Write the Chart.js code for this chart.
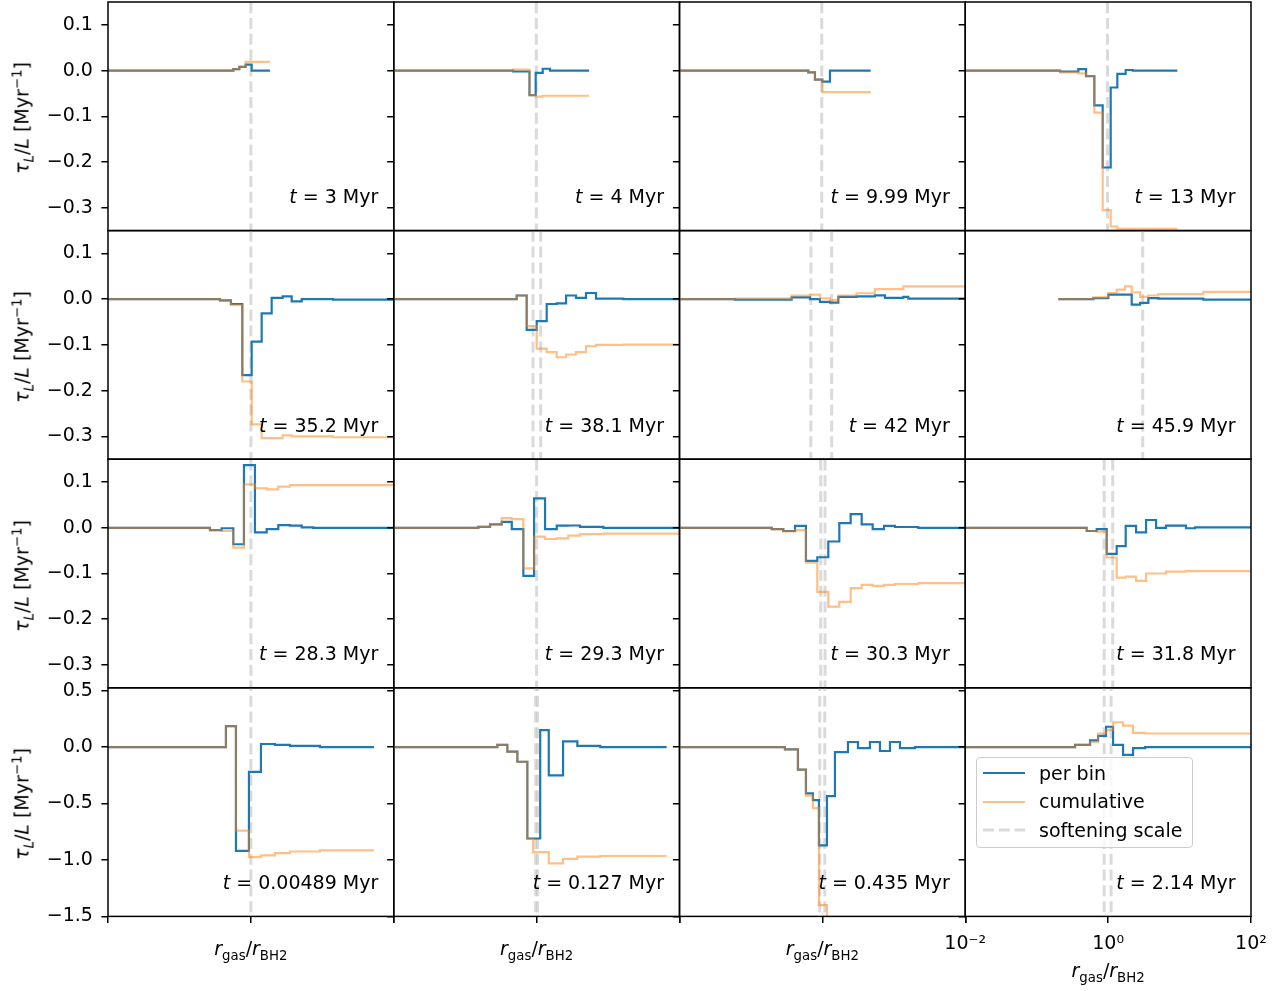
<!DOCTYPE html>
<html><head><meta charset="utf-8">
<script src="https://cdn.jsdelivr.net/npm/chart.js"></script>
<style>
body{margin:0;background:#fff;}
#wrap{position:relative;width:1284px;height:991px;overflow:hidden;font-family:'DejaVu Sans';color:#000;background:#fff;}
canvas{position:absolute;}
.txt{position:absolute;font-size:19px;line-height:19px;white-space:nowrap;font-family:'DejaVu Sans';}
sub,sup{font-size:0.7em;line-height:0;}
</style></head>
<body><div id="wrap"></div>
<script>
// ---------------- DATA ----------------
const times = ['3','4','9.99','13','35.2','38.1','42','45.9','28.3','29.3','30.3','31.8','0.00489','0.127','0.435','2.14'];
// bin edges in log10(r_gas/r_BH2); per-bin and cumulative tau_L/L per bin
const p0_edges = [-2, -0.246, -0.162, -0.073, 0.011, 0.267];
const p0_bin   = [0, 0.003, 0.008, 0.013, 0];
const p0_cum   = [0, 0.003, 0.008, 0.019, 0.019];
const p0_soft  = [1.0];

const p1_edges = [-2, -0.33, -0.10, -0.013, 0.085, 0.187, 0.734];
const p1_bin   = [0, -0.002, -0.054, -0.005, 0.004, 0.0];
const p1_cum   = [0, 0.002, -0.054, -0.057, -0.055, -0.055];
const p1_soft  = [0.99];

const p2_edges = [-2, -0.197, -0.104, -0.001, 0.106, 0.676];
const p2_bin   = [0, -0.004, -0.02, -0.024, 0.0];
const p2_cum   = [0, -0.004, -0.02, -0.047, -0.047];
const p2_soft  = [0.98];

const p3_edges = [-2, -0.673, -0.417, -0.309, -0.193, -0.076, 0.036, 0.129, 0.246, 0.344, 0.969];
const p3_bin   = [0, -0.002, 0.003, -0.012, -0.076, -0.212, -0.037, -0.0074, 0.0013, 0.0];
const p3_cum   = [0, -0.004, -0.006, -0.012, -0.092, -0.305, -0.341, -0.346, -0.346, -0.346];
const p3_soft  = [0.98];

const p4_edges = [-2, -0.433, -0.279, -0.120, 0.011, 0.151, 0.291, 0.445, 0.571, 0.711, 1.149, 2];
const p4_bin   = [0, -0.0025, -0.0105, -0.166, -0.093, -0.031, 0.003, 0.006, -0.005, 0.0, -0.001];
const p4_cum   = [0, -0.003, -0.013, -0.18, -0.274, -0.304, -0.304, -0.298, -0.300, -0.300, -0.302];
const p4_soft  = [1.0];

const p5_edges = [-2, -0.279, -0.139, 0.001, 0.141, 0.281, 0.412, 0.551, 0.691, 0.831, 1.214, 2];
const p5_bin   = [0, 0.008, -0.067, -0.048, -0.0105, -0.009, 0.008, 0.003, 0.0135, 0.001, 0];
const p5_cum   = [0, 0.008, -0.059, -0.108, -0.116, -0.127, -0.121, -0.116, -0.103, -0.100, -0.0995];
const p5_soft  = [0.89, 1.14];

const p6_edges = [-2, -1.225, -0.43, -0.174, -0.034, 0.106, 0.223, 0.480, 0.736, 0.876, 1.133, 1.203, 2];
const p6_bin   = [0, -0.001, 0.004, 0, -0.006, -0.0075, 0.005, 0.006, 0.0085, 0.003, 0.005, 0.001];
const p6_cum   = [0, 0.001, 0.008, 0.010, 0.002, -0.002, 0.008, 0.013, 0.022, 0.022, 0.028, 0.028];
const p6_soft  = [0.69, 1.35];

const p7_edges = [-0.697, -0.207, 0.003, 0.12, 0.237, 0.33, 0.447, 0.563, 0.703, 1.333, 2];
const p7_bin   = [0, 0.002, 0.01, 0.01, 0.01, -0.012, -0.008, 0.0025, 0.001, -0.001];
const p7_cum   = [0, 0.004, 0.0135, 0.021, 0.028, 0.015, 0.005, 0.008, 0.011, 0.016];
const p7_soft  = [3.05];

const p8_edges = [-2, -0.573, -0.409, -0.246, -0.097, 0.057, 0.221, 0.384, 0.547, 0.711, 0.873, 2];
const p8_bin   = [0, -0.005, -0.001, -0.036, 0.137, -0.010, -0.003, 0.006, 0.0045, 0.001, 0];
const p8_cum   = [0, -0.005, -0.007, -0.0435, 0.095, 0.0865, 0.084, 0.090, 0.0935, 0.0935, 0.0935];
const p8_soft  = [1.0];

const p9_edges = [-2, -0.816, -0.652, -0.488, -0.348, -0.186, -0.036, 0.118, 0.282, 0.444, 0.607, 0.934, 2];
const p9_bin   = [0, 0.002, 0.0075, 0.013, -0.003, -0.105, 0.0645, -0.003, 0.0045, 0.005, 0.002, 0];
const p9_cum   = [0, 0.002, 0.0075, 0.021, 0.019, -0.089, -0.0195, -0.0245, -0.023, -0.017, -0.014, -0.013];
const p9_soft  = [1.0];

const p10_edges = [-2, -0.709, -0.547, -0.383, -0.23, -0.071, 0.083, 0.237, 0.396, 0.55, 0.704, 0.862, 1.016, 1.342, 2];
const p10_bin   = [0, -0.003, -0.007, 0.004, -0.0725, -0.0645, -0.030, 0.010, 0.030, 0.0075, -0.003, 0.004, 0.0017, 0];
const p10_cum   = [0, -0.003, -0.008, -0.005, -0.076, -0.140, -0.1725, -0.162, -0.132, -0.125, -0.127, -0.125, -0.123, -0.121];
const p10_soft  = [0.95, 1.09];

const p11_edges = [-2, -0.3, -0.16, -0.02, 0.12, 0.246, 0.391, 0.531, 0.671, 0.81, 1.09, 1.216, 2];
const p11_bin   = [0, -0.007, -0.003, -0.057, -0.040, 0.004, -0.010, 0.017, 0, 0.0045, -0.001, 0.001];
const p11_cum   = [0, -0.007, -0.0085, -0.065, -0.109, -0.107, -0.116, -0.100, -0.100, -0.096, -0.095, -0.095];
const p11_soft  = [0.88, 1.16];

const p12_edges = [-2, -0.349, -0.209, -0.027, 0.141, 0.337, 0.547, 0.967, 1.723];
const p12_bin   = [0, 0.186, -0.92, -0.22, 0.027, 0.02, 0.01, 0];
const p12_cum   = [0, 0.186, -0.74, -0.975, -0.96, -0.94, -0.925, -0.915];
const p12_soft  = [1.0];

const p13_edges = [-2, -0.55, -0.41, -0.27, -0.13, -0.05, 0.05, 0.17, 0.37, 0.57, 0.89, 1.82];
const p13_bin   = [0, 0.02, -0.04, -0.13, -0.81, -0.81, 0.15, -0.25, 0.05, 0.01, 0];
const p13_cum   = [0, 0.02, -0.04, -0.13, -0.81, -0.93, -0.93, -1.03, -0.99, -0.97, -0.965];
const p13_soft  = [0.97, 1.03];

const p14_edges = [-2, -0.524, -0.342, -0.23, -0.132, -0.048, 0.064, 0.176, 0.358, 0.498, 0.666, 0.806, 0.946, 1.086, 1.296, 2];
const p14_bin   = [0, -0.02, -0.2, -0.41, -0.47, -0.87, -0.435, -0.045, 0.045, -0.01, 0.045, -0.035, 0.045, -0.01, 0];
const p14_cum   = [0, -0.02, -0.2, -0.43, -0.54, -1.4, -1.75, -1.8, -1.78, -1.8, -1.76, -1.8, -1.76, -1.77, -1.77];
const p14_soft  = [0.92, 1.08];

const p15_edges = [-2, -0.463, -0.253, -0.141, -0.029, 0.069, 0.209, 0.349, 0.517, 2];
const p15_bin   = [0, 0.02, 0.06, 0.1, 0.18, 0.02, -0.07, -0.01, 0];
const p15_cum   = [0, 0.02, 0.045, 0.12, 0.15, 0.22, 0.19, 0.125, 0.12];
const p15_soft  = [0.88, 1.1];

const xRange = [0.01, 100];
const xTickValues = [0.01, 1, 100];
const xTickLabels = ['10\u207B\u00B2', '10\u2070', '10\u00B2'];
const yRangeTop = [-0.35, 0.15];
const yTicksTop = [-0.3, -0.2, -0.1, 0.0, 0.1];
const yLabelsTop = ['\u22120.3', '\u22120.2', '\u22120.1', '0.0', '0.1'];
const yRangeBottom = [-1.5, 0.525];
const yTicksBottom = [-1.5, -1.0, -0.5, 0.0, 0.5];
const yLabelsBottom = ['\u22121.5', '\u22121.0', '\u22120.5', '0.0', '0.5'];

const panels = [
  [p0_edges, p0_bin, p0_cum, p0_soft], [p1_edges, p1_bin, p1_cum, p1_soft],
  [p2_edges, p2_bin, p2_cum, p2_soft], [p3_edges, p3_bin, p3_cum, p3_soft],
  [p4_edges, p4_bin, p4_cum, p4_soft], [p5_edges, p5_bin, p5_cum, p5_soft],
  [p6_edges, p6_bin, p6_cum, p6_soft], [p7_edges, p7_bin, p7_cum, p7_soft],
  [p8_edges, p8_bin, p8_cum, p8_soft], [p9_edges, p9_bin, p9_cum, p9_soft],
  [p10_edges, p10_bin, p10_cum, p10_soft], [p11_edges, p11_bin, p11_cum, p11_soft],
  [p12_edges, p12_bin, p12_cum, p12_soft], [p13_edges, p13_bin, p13_cum, p13_soft],
  [p14_edges, p14_bin, p14_cum, p14_soft], [p15_edges, p15_bin, p15_cum, p15_soft]
];

// ---------------- LAYOUT ----------------
const L0 = 108, PW = 285.75, T0 = 2, PH = 228.6;
const wrap = document.getElementById('wrap');
Chart.defaults.font.family = "'DejaVu Sans'";
Chart.defaults.font.size = 19;
Chart.defaults.color = '#000';

const BLUE = '#1f77b4', ORANGE = 'rgba(255,127,14,0.5)', GREY = 'rgba(195,195,195,0.62)';

function stepPoints(edges, vals) {
  const pts = vals.map((v, i) => ({x: Math.pow(10, edges[i]), y: v}));
  pts.push({x: Math.pow(10, edges[edges.length - 1]), y: vals[vals.length - 1]});
  return pts;
}

const framePlugin = {
  id: 'frame',
  afterDatasetsDraw(chart) {
    const {ctx, chartArea: a} = chart;
    ctx.save();
    ctx.strokeStyle = '#000';
    ctx.lineWidth = 1.5;
    ctx.strokeRect(a.left, a.top, a.right - a.left, a.bottom - a.top);
    ctx.restore();
  }
};

let lastChart = null;
panels.forEach((p, idx) => {
  const [edges, bin, cum, soft] = p;
  const r = Math.floor(idx / 4), c = idx % 4;
  const px0 = L0 + c * PW, px1 = px0 + PW, py0 = T0 + r * PH, py1 = py0 + PH;
  const cx = Math.floor(px0) - 100, cy = Math.floor(py0) - 20;
  const cw = Math.ceil(px1) + 40 - cx, ch = Math.ceil(py1) + 75 - cy;
  const canvas = document.createElement('canvas');
  canvas.width = cw; canvas.height = ch;
  canvas.style.left = cx + 'px'; canvas.style.top = cy + 'px';
  canvas.style.width = cw + 'px'; canvas.style.height = ch + 'px';
  wrap.appendChild(canvas);

  const bottomRow = r === 3;
  const yT = bottomRow ? yTicksBottom : yTicksTop;
  const yL = bottomRow ? yLabelsBottom : yLabelsTop;
  const yR = bottomRow ? yRangeBottom : yRangeTop;

  const datasets = [
    {label: 'per bin', data: stepPoints(edges, bin), borderColor: BLUE, borderWidth: 2.2,
     stepped: true, pointRadius: 0, fill: false, order: 2, clip: 0},
    {label: 'cumulative', data: stepPoints(edges, cum), borderColor: ORANGE, borderWidth: 2.2,
     stepped: true, pointRadius: 0, fill: false, order: 1, clip: 0}
  ];
  soft.forEach(s => datasets.push({label: 'softening scale', data: [{x: s, y: -10}, {x: s, y: 10}],
    borderColor: GREY, borderWidth: 3, borderDash: [11, 4.8], pointRadius: 0, fill: false, order: 3, clip: 0}));

  lastChart = new Chart(canvas, {
    type: 'line',
    data: {datasets},
    options: {
      responsive: false, animation: false, devicePixelRatio: 1, events: [],
      layout: {padding: {left: 0, top: py0 - cy, right: cx + cw - px1, bottom: 0}, autoPadding: false},
      plugins: {legend: {display: false}, tooltip: {enabled: false}},
      scales: {
        x: {type: 'logarithmic', min: xRange[0], max: xRange[1],
            afterBuildTicks: s => { s.ticks = xTickValues.map(v => ({value: v})); },
            afterFit: s => { s.height = cy + ch - py1; },
            ticks: {display: bottomRow && c === 3, autoSkip: false, maxRotation: 0, minRotation: 0,
                    padding: 10, callback: (v, i) => xTickLabels[i]},
            grid: {display: bottomRow, drawOnChartArea: false, drawTicks: true, tickLength: 6.6,
                   tickColor: '#000', tickWidth: 1.5, color: '#000', lineWidth: 1.5},
            border: {display: false}},
        y: {type: 'linear', min: yR[0], max: yR[1],
            afterBuildTicks: s => { s.ticks = yT.map(v => ({value: v})); },
            afterFit: s => { s.width = px0 - cx; },
            ticks: {display: c === 0, padding: 8.5, callback: (v, i) => yL[i]},
            grid: {drawOnChartArea: false, drawTicks: true, tickLength: 6.6,
                   tickColor: '#000', tickWidth: 1.5, color: '#000', lineWidth: 1.5},
            border: {display: false}}
      }
    },
    plugins: [framePlugin]
  });

  // time annotation
  const ann = document.createElement('div');
  ann.className = 'txt';
  ann.innerHTML = '<i>t</i> = ' + times[idx] + ' Myr';
  ann.style.right = (1284 - (px1 - 15.5)) + 'px';
  ann.style.top = (py1 - 27.4 - 16.1) + 'px';
  wrap.appendChild(ann);

  if (r === 3) {
    const xl = document.createElement('div');
    xl.className = 'txt';
    xl.innerHTML = '<i>r</i><sub>gas</sub>/<i>r</i><sub>BH2</sub>';
    const base = c === 3 ? 977 : 955;
    xl.style.left = ((px0 + px1) / 2) + 'px';
    xl.style.top = (base - 16.1) + 'px';
    xl.style.transform = 'translateX(-50%)';
    wrap.appendChild(xl);
  }
  if (c === 0) {
    const yl = document.createElement('div');
    yl.className = 'txt';
    yl.innerHTML = '<i>\u03C4</i><sub><i>L</i></sub>/<i>L</i> [Myr<sup>\u22121</sup>]';
    yl.style.left = '22px';
    yl.style.top = ((py0 + py1) / 2 + 2) + 'px';
    yl.style.transform = 'translate(-50%,-50%) rotate(-90deg)';
    wrap.appendChild(yl);
  }
});

// ---------------- LEGEND (built from the last chart's datasets) ----------------
(function () {
  const dsets = lastChart.data.datasets.slice(0, 3);
  const lg = document.createElement('div');
  lg.style.cssText = 'position:absolute;left:976px;top:757px;width:217px;height:91px;border:1px solid #cccccc;border-radius:4px;background:rgba(255,255,255,0.8);box-sizing:border-box;';
  dsets.forEach((d, k) => {
    const cyy = 15 + 28.5 * k;
    const svg = document.createElementNS('http://www.w3.org/2000/svg', 'svg');
    svg.setAttribute('width', '50'); svg.setAttribute('height', '10');
    svg.style.cssText = 'position:absolute;left:6px;top:' + (cyy - 5) + 'px;';
    const ln = document.createElementNS('http://www.w3.org/2000/svg', 'line');
    ln.setAttribute('x1', '0'); ln.setAttribute('x2', '42');
    ln.setAttribute('y1', '5'); ln.setAttribute('y2', '5');
    ln.setAttribute('stroke', d.borderColor);
    ln.setAttribute('stroke-width', d.borderWidth);
    if (d.borderDash) ln.setAttribute('stroke-dasharray', d.borderDash.join(' '));
    svg.appendChild(ln);
    lg.appendChild(svg);
    const tx = document.createElement('div');
    tx.className = 'txt';
    tx.textContent = d.label;
    tx.style.left = '62px';
    tx.style.top = (cyy - 9.5) + 'px';
    lg.appendChild(tx);
  });
  wrap.appendChild(lg);
})();
</script></body></html>
